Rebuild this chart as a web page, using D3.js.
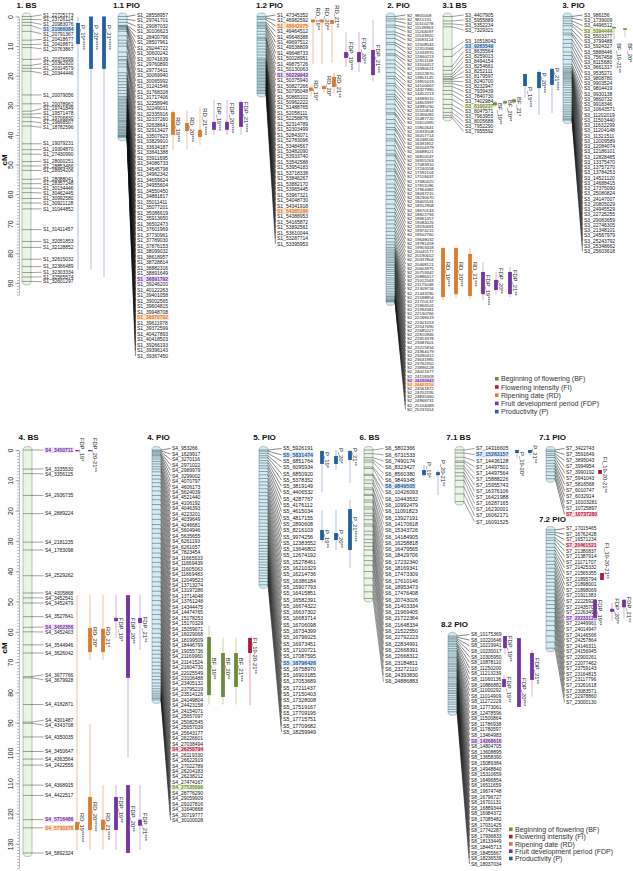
<!DOCTYPE html>
<html>
<head>
<meta charset="utf-8">
<script src="https://cdn.jsdelivr.net/npm/d3@7"></script>
<style>
body { margin: 0; background: #fff; }
text { font-family: "Liberation Sans", Arial, sans-serif; }
</style>
</head>
<body>
<svg id="chart" width="633" height="871"></svg>
<script>
// ---- marker data (cM positions + names) ----
var pos_1BS = [0,1,2,3,5,8,9.5,10.5,14.5,16.5,17.5,18.5,26.5,29.5,32,33,34,35.5,37,43,45,46.5,49,50.5,52,55,56.5,58,59.5,61.5,63,65,72,76,78,82,84.5,86.5,88,89.5];
var mrk_1BS = ["S1_22725173","S1_23726114","S1_20983076","S1_21066084","S1_20791367","S1_20418677","S1_20418871","S1_20763867","S1_20376599","S1_20362920","S1_20314579","S1_20344446","S1_20079056","S1_20078962","S1_19741849","S1_19571478","S1_19706830","S1_19668507","S1_18782596","S1_19079231","S1_19304870","S1_27430990","S1_28000251","S1_28853466","S1_28654206","S1_28088041","S1_28357248","S1_30134446","S1_30462445","S1_30992580","S1_30921128","S1_31044852","S1_31411457","S1_32051853","S1_32128852","S1_32615032","S1_32366489","S1_32303334","S1_32565574","S1_32601297"];

var pos_11PIO = [0,1,2,3,3.2,3.4,3.6,4,4.4,5,6.5,8,9,10,12,13.5,14.5,15,16,17,19,20,21,22,23,24,25,26,27,27.5,28,28.5,29,29.5,30,30.5,31,31.5,32,32.5,33,33.5,34,34.5,35,35.3,35.6,36,36.5,37,37.3,37.6,38,38.3,38.6,39,39.3,39.6,40,40.2,40.4,40.6,40.8];
var mrk_11PIO = ["S1_28558957","S1_29741701","S1_29087032","S1_30106623","S1_28400796","S1_28507961","S1_29244722","S1_30600242","S1_30741639","S1_29760890","S1_29773411","S1_30069940","S1_30065992","S1_31241546","S1_31768328","S1_31717406","S1_32258946","S1_32249011","S1_32335916","S1_32337260","S1_32638641","S1_32913427","S1_33507623","S1_33829910","S1_33634187","S1_33641388","S1_33911695","S1_34086733","S1_34545798","S1_34962342","S1_34659624","S1_34955604","S1_34550450","S1_34881817","S1_35011411","S1_35077201","S1_35086619","S1_35913650","S1_36502473","S1_37601969","S1_37730961","S1_37789030","S1_37876153","S1_38099032","S1_38618957","S1_38728814","S1_38882316","S1_38891649","S1_36891792","S1_39246200","S1_40122263","S1_39401058","S1_39002565","S1_39604815","S1_39948708","S1_39970792","S1_39611978","S1_39372599","S1_40427893","S1_40418503","S1_39266193","S1_39396143","S1_39367450"];

var pos_12PIO = [0,0.5,1,2,2.5,3,3.5,4,5,6,7,7.5,8,9,10,11,12,13,14,14.5,15,15.5,16,16.5,17,17.5,18,18.5,19,19.5,20,20.5,21,21.5,22,22.5,23,23.5,24,24.5,25,25.5,26];
var mrk_12PIO = ["S1_47345352","S1_46982592","S1_48642975","S1_49464512","S1_49648388","S1_49697512","S1_49538809","S1_49648733","S1_50028951","S1_49875726","S1_50130063","S1_50229942","S1_50375940","S1_50827266","S1_50795048","S1_50865102","S1_50962222","S1_51488765","S1_52058111","S1_52258876","S1_52314789","S1_52303499","S1_52843071","S1_52783096","S1_53484567","S1_53482090","S1_53933740","S1_53542588","S1_53954183","S1_53718338","S1_53846267","S1_53882170","S1_53965445","S1_53967321","S1_54048730","S1_54341918","S1_54385296","S1_54388953","S1_54165872","S1_53892561","S1_53610044","S1_53287714","S1_53395953"];

var pos_2PIO = [0,0.8,1.5,2.9,3.6,5.2,6.1,7.4,8.8,9.5,11.2,12.6,13.1,14.7,16.0,17.3,18.9,20.2,21.0,22.6,23.4,24.9,26.3,27.1,28.0,29.6,31.2,32.5,33.0,34.8,36.1,37.5,38.2,39.9,41.3,42.0,43.6,45.2,46.4,47.0,48.7,50.1,51.5,52.3,53.8,55.0,56.6,57.9,59.2,60.5,61.8,63.4,64.9,66.2,67.5,68.8,70.1,71.5,72.6,73.9,75.0,76.2,77.1,78.0,78.6,79.2,79.8,80.3,80.9,81.4,82.0,82.6,83.1,83.7,84.2,84.8,85.5,86.1,86.8,87.5,88.3,89.0,89.8,90.5,91.3,92.0,92.8,93.5,94.1,94.6,95.0,95.4,95.7,96.0,96.2,96.4];
var mrk_2PIO = ["S2_9805008","S2_9815131","S2_10110278","S2_11149963","S2_11264097","S2_11543920","S2_11683124","S2_12008542","S2_12310566","S2_12434970","S2_12660213","S2_12911148","S2_13104457","S2_13390621","S2_13522870","S2_13801145","S2_13955019","S2_14100662","S2_14327980","S2_14452213","S2_14689015","S2_14803397","S2_14995230","S2_15120814","S2_15366082","S2_15487720","S2_15610395","S2_15802641","S2_15933508","S2_16057714","S2_16248106","S2_16391852","S2_16504379","S2_16688021","S2_16810547","S2_16955263","S2_17083910","S2_17240558","S2_17392104","S2_17516637","S2_17680425","S2_17811096","S2_17964382","S2_18097215","S2_18230670","S2_18405531","S2_18552908","S2_18670143","S2_18822794","S2_18961357","S2_19084026","S2_19230681","S2_19374215","S2_19502760","S2_19648032","S2_19781459","S2_19903318","S2_20045177","S2_20190652","S2_20337804","S2_20468121","S2_20603975","S2_20759342","S2_20886417","S2_21012563","S2_21175048","S2_21309716","S2_21443290","S2_21598854","S2_21720137","S2_21866502","S2_21994381","S2_22130766","S2_22268419","S2_22401053","S2_22547690","S2_22685227","S2_22810946","S2_22953378","S2_23087601","S2_23215834","S2_23364079","S2_23490412","S2_23631985","S2_23762350","S2_23896128","S2_24021677","S2_24158309","S2_24290843","S2_24423516","S2_24561872","S2_24702195","S2_24835460","S2_24968731","S2_25104089","S2_25237414"];

var pos_31BS = [0,1.5,2.5,3.5,11.1,13.5,16.9,18.2,19.5,20.3,20.9,21.3,21.9,22.6,23.6,25,26.3,28,29.7,31.1,32.4,33.4,34.1];
var mrk_31BS = ["S3_4407905","S3_5955889","S3_5352234","S3_7329321","S3_10518042","S3_9265549","S3_8635564","S3_8259013","S3_8494154","S3_8254661","S3_8252111","S3_8179597","S3_8240700","S3_8232947","S3_7939439","S3_7840730","S3_7402984","S3_8100237","S3_8047571","S3_7963955","S3_8005688","S3_7952290","S3_7955592"];

var pos_3PIO = [0,0.6,1.5,2.4,3.1,4.5,5.6,6.2,7.8,9.1,10.4,12.0,13.2,14.5,16.1,17.0,17.6,18.1,18.5,18.9,19.3,19.7,20.1,20.5,20.9,21.4,21.9,22.5,23.2,24.0,24.8,25.7,26.5,27.4,28.2,29.0,29.9,30.6,31.3,32.0,32.6,33.2,33.8,34.3,34.7,35.0];
var mrk_3PIO = ["S3_986156","S3_1739009","S3_4496512","S3_5394444","S3_5503377","S3_3799488","S3_5924327","S3_5888446","S3_7567458","S3_8115680","S3_9661317","S3_9535271","S3_9808780","S3_9903524","S3_9804419","S3_9930138","S3_9860732","S3_9918346","S3_10643571","S3_11202019","S3_11503440","S3_11632299","S3_11204148","S3_11321511","S3_12009589","S3_12084074","S3_12186101","S3_12828485","S3_13375470","S3_13757270","S3_13784253","S3_14521120","S3_14688415","S3_17375090","S3_25080824","S3_24147007","S3_20805029","S3_24945529","S3_22725255","S3_29083659","S3_22746305","S3_21348101","S3_24567979","S3_25243792","S3_25348662","S3_25603618"];

var pos_4BS = [0,6.3,7.8,15,21,30.4,33,41.5,47.2,48.8,50.5,55,58.5,60,64.3,67,74.8,75.2,84,89.8,90.2,94.7,99.5,102,104,110.6,114,122,124.7,133];
var mrk_4BS = ["S4_3450711","S4_3335530","S4_3356115","S4_2936735","S4_2889224","S4_2181235","S4_1783098","S4_2529262","S4_4305868","S4_3452541","S4_3452479","S4_3527641","S4_3452356","S4_3452403","S4_3544946","S4_3626042","S4_3677766","S4_3679928","S4_4182871","S4_4301487","S4_4343708","S4_4350035","S4_3450647","S4_4363564","S4_2422556","S4_4368915","S4_4422517","S4_5716486","S4_5730378","S4_5892324"];

var pos_4PIO = [0,0.3,0.6,1.0,1.4,1.8,2.3,3.0,3.8,4.6,5.5,6.3,7.2,8.4,9.6,10.8,12.1,13.5,15.0,16.4,18.0,19.7,21.2,22.9,24.6,26.0,27.5,29.1,30.8,32.4,34.0,35.5,37.1,38.6,40.2,41.9,43.5,45.0,46.6,48.1,49.7,51.2,52.8,54.3,55.9,57.4,59.0,60.5,62.0,63.4,64.8,66.1,67.4,68.7,70.0,71.2,72.4,73.6,74.7,75.8,76.9,77.9,78.8,79.6,80.3,80.9,81.5,82.0,82.5];
var mrk_4PIO = ["S4_953266","S4_1629917","S4_3270116","S4_2971022","S4_2989979","S4_3299002","S4_4070797","S4_4606173","S4_5624039","S4_4521440","S4_4106192","S4_4046393","S4_4223201","S4_4039649","S4_4246681","S4_5604946","S4_5635655","S4_6261193","S4_6261057","S4_7823454","S4_11665633","S4_11669439","S4_11605063","S4_11669483","S4_12049523","S4_13713274","S4_13197286","S4_13714048","S4_13761248","S4_14344475","S4_14474765","S4_15178253","S4_15170329","S4_15059671","S4_16029068","S4_18199509","S4_18446799","S4_19055736","S4_21169960","S4_21141524","S4_21604730","S4_22025549","S4_23106488","S4_23405132","S4_23795219","S4_23514126","S4_24149804","S4_24423158","S4_24154071","S4_25657097","S4_25082545","S4_25657039","S4_25643177","S4_26226601","S4_27038494","S4_26258794","S4_26119330","S4_26622919","S4_27022789","S4_26204183","S4_26238212","S4_27474167","S4_27535090","S4_28776290","S4_29059909","S4_29107816","S4_31640668","S4_30719777","S4_30100028"];

var pos_5PIO = [0,0.4,1.1,1.9,2.6,3.5,4.3,5.2,6.0,7.1,8.2,9.4,10.5,11.6,12.8,14.0,15.1,16.3,17.4,18.6,19.7,20.8,21.9,23.0,24.1,25.2,26.3,27.4,28.5,29.5,30.5,31.5,32.5,33.4,34.3,35.2,36.1,37.0,37.9,38.8,39.7,40.6,41.5,42.4,43.4,44.5];
var mrk_5PIO = ["S5_5926191","S5_5831474","S5_6851764","S5_6095934","S5_6850920","S5_5378352","S5_3819149","S5_4406532","S5_4287767","S5_4176112","S5_4615034","S5_4817155","S5_2890608","S5_8216103","S5_9974256","S5_12383552","S5_13646802","S5_12674192","S5_15278461","S5_16210329","S5_16214736","S5_16386184","S5_15907793","S5_16415851","S5_16582391","S5_16674322","S5_16637302","S5_16683714","S5_16706098","S5_16734399","S5_16796025","S5_16973451","S5_17100721","S5_17087595","S5_16796426","S5_16758970","S5_16903185","S5_17053689","S5_17211437","S5_17150403","S5_17328008","S5_17519167","S5_17709195","S5_17715751","S5_17709682","S5_18259949"];

var pos_6BS = [0,1.2,2.5,3.3,4.0,5.6,6.1,8.0,8.4,9.9,11.0,12.5,13.1,14.6,15.0,16.5,17.2,18.8,19.5,20.9,21.7,23.0,24.4,25.1,26.8,28.0,29.5,30.6,31.8,33.0,34.9,36.5,38.0,40.1,42.3,44.6,46.8,49.0];
var mrk_6BS = ["S6_5802366","S6_6731533","S6_7490174","S6_8323427","S6_8560380","S6_9849345","S6_9849505","S6_10426093","S6_10443532","S6_10992479","S6_11091823","S6_13927191","S6_14170618","S6_15343726","S6_14184905","S6_16258818","S6_16479565","S6_18429706","S6_17232340","S6_18169341","S6_17473309","S6_17610146","S6_18953473","S6_17476408","S6_20743026","S6_21403334","S6_21969405","S6_21722364","S6_21648334","S6_21522550","S6_22792223","S6_22834991","S6_22668391","S6_22668312","S6_23184811","S6_23272110","S6_24393830","S6_24886883"];

var pos_71BS = [0,1.0,2.4,3.6,4.1,5.3,6.2,7.5,8.6,10.0,12.2,14.5,17.0];
var mrk_71BS = ["S7_14316605","S7_15263157","S7_14436128","S7_14497501","S7_14497564","S7_15888226","S7_15955743","S7_16376106","S7_16421988","S7_16287165","S7_16230001","S7_16062171","S7_16091525"];

var pos_71PIO = [0,0.5,1.2,1.8,2.5,3.5,4.4,5.3,6.2,7.2,8.4,9.5];
var mrk_71PIO = ["S7_3422743","S7_3591649","S7_3895043","S7_3994954","S7_3990192","S7_5941043","S7_5816568","S7_6010747","S7_6032914","S7_10103281","S7_10725897","S7_10737280"];

var pos_72PIO = [0,0.8,1.5,2.6,3.4,4.5,5.7,6.8,7.9,9.0,10.3,11.4,12.6,13.8,15.0,16.1,17.3,18.5,19.7,20.9,22.1,23.3,24.6,25.9,27.2,28.6,30.0,31.5,33.2,35.0,37.0,39.0];
var mrk_72PIO = ["S7_17015465","S7_16762428","S7_16571234","S7_20461521","S7_21380837","S7_21387914","S7_21171707","S7_21425332","S7_21565355","S7_21895794","S7_21898001","S7_21898069","S7_21911383","S7_22225920","S7_22435709","S7_22263495","S7_22233123","S7_22449961","S7_24014947","S7_24146566","S7_24257864","S7_24146311","S7_24156945","S7_22900261","S7_22077462","S7_23759143","S7_23164815","S7_23117796","S7_23261618","S7_23083571","S7_22978860","S7_23000130"];

var pos_82PIO = [0,0.4,0.9,1.3,1.8,2.4,2.9,3.4,4.1,4.7,5.2,5.9,6.6,7.1,7.6,8.3,9.0,9.5,10.1,10.8,11.3,11.8,12.5,13.2,13.7,14.2,14.9,15.6,16.1,16.6,17.3,18.0,18.5,19.0,19.7,20.4,21.0,21.8,22.5,23.4,24.2,25.0];
var mrk_82PIO = ["S8_10175369","S8_10220646","S8_10219941","S8_10230017","S8_10305950","S8_10878110","S8_11250200","S8_11213239","S8_11060136","S8_10886882","S8_11000292","S8_11014909","S8_11272229","S8_12773061","S8_12478596","S8_11500864","S8_11786938","S8_11780597","S8_13464983","S8_14268616","S8_14804705","S8_13608895","S8_13658390","S8_15089384","S8_14948840","S8_15310659","S8_16496854","S8_16511659","S8_19674748","S8_16796727","S8_16701131","S8_16889344","S8_16984372","S8_17085482","S8_17031425","S8_17742287","S8_17936833","S8_18133449","S8_18445713","S8_18455667","S8_18236539","S8_18037034"];

// highlighted markers -> trait
var highlight = {
  "S1_21066084":"P","S1_36891792":"FDP","S1_39970792":"RD","S1_48642975":"RD","S1_50229942":"FDP","S1_54385296":"RD",
  "S2_24290843":"FDP","S2_24423516":"RD","S3_9265549":"P","S3_8100237":"BF","S3_5394444":"BF",
  "S4_3450711":"FDP","S4_3452356":"FDP","S4_5716486":"FDP","S4_5730378":"RD","S4_26258794":"FI","S4_27535090":"BF",
  "S5_5831474":"P","S5_16796426":"P","S6_9849505":"P","S7_15263157":"P","S7_10737280":"FI","S7_20461521":"FI",
  "S7_22233123":"FDP","S8_14268616":"FDP"
};

// QTL: group, label, trait, thin start, thin end, thick start, thick end (cM)
var qtlRows = [
  ["1. BS","P_19*****","P",0,85.6,2.2,9.3],
  ["1. BS","P_20*****","P",0,85.6,0,17.7],
  ["1. BS","P_21*****","P",0,88,0,17.7],
  ["1.1 PIO","RD_19***","RD",31.6,45,32.3,40],
  ["1.1 PIO","RD_20***","RD",31.6,45,36,38.7],
  ["1.1 PIO","RD_21****","RD",30.6,43.4,38.3,40.7],
  ["1.1 PIO","FDP_19***","FDP",28.2,40,35.6,38.3],
  ["1.1 PIO","FDP_20****","FDP",28.2,40,35.6,38.3],
  ["1.1 PIO","FDP_21****","FDP",28.2,40,28.9,37.3],
  ["1.2 PIO","RD_19**","RD",1,16,1,2],
  ["1.2 PIO","RD_20**","RD",1,16,1,2],
  ["1.2 PIO","RD_21**","RD",1.2,15.7,1.2,2.5],
  ["1.2 PIO","RD_19*","RD",23,27,24,25.2],
  ["1.2 PIO","RD_20*","RD",23,26,23.5,24.5],
  ["1.2 PIO","RD_21**","RD",19,26,20.4,23.8],
  ["1.2 PIO","FDP_19***","FDP",5.2,17,12,14],
  ["1.2 PIO","FDP_20**","FDP",5.2,18.75,12,15.4],
  ["1.2 PIO","FDP_21***","FDP",1.2,22,11.3,19.8],
  ["2. PIO","RD_19***","RD",77.9,95.8,78.2,94.8],
  ["2. PIO","RD_20***","RD",77.9,95,78.2,93.8],
  ["2. PIO","RD_21***","RD",78.2,95.4,80.2,94.4],
  ["2. PIO","FDP_19****","FDP",83,95.8,86.3,93.8],
  ["2. PIO","FDP_20**","FDP",86.3,94,89,92.4],
  ["2. PIO","FDP_21**","FDP",84.6,94.8,86.3,93.8],
  ["3.1 BS","BF_19**","BF",28.5,30.5,29,30],
  ["3.1 BS","BF_20**","BF",28,30,28.6,29.4],
  ["3.1 BS","BF_21*","BF",27.5,29.5,28,29],
  ["3.1 BS","P_19***","P",19.4,27.5,19.4,23.5],
  ["3.1 BS","P_20***","P",18,33.3,18.75,24.2],
  ["3.1 BS","P_21****","P",17,32.6,17.7,23.1],
  ["3. PIO","BF_19-21**","BF",3.5,8,3.5,4],
  ["3. PIO","BF_20*","BF",4,7,4,4.5],
  ["4. BS","FDP_19*","FDP",0,0.4,0,0.4],
  ["4. BS","FDP_20-21**","FDP",0,0.4,0,0.4],
  ["4. BS","RD_20*","RD",47.9,69.3,58.7,66.7],
  ["4. BS","RD_21*","RD",47.9,69.3,59,66.7],
  ["4. BS","FDP_19*","FDP",47.9,62,55.4,56.5],
  ["4. BS","FDP_20**","FDP",47.9,101.6,47.9,75.2],
  ["4. BS","FDP_21**","FDP",47.9,66,55.4,57.1],
  ["4. BS","RD_19*****","RD",47.9,132,122.8,125.4],
  ["4. BS","RD_20*****","RD",90.4,132,114.5,125.4],
  ["4. BS","RD_21****","RD",110.6,132,122,125.4],
  ["4. BS","FDP_19**","FDP",110.6,132,114.5,125.4],
  ["4. BS","FDP_20**","FDP",110.6,132,110.6,133],
  ["4. BS","FDP_21***","FDP",110.6,132,122,124],
  ["4. PIO","BF_19**","BF",58,84,61.7,80.9],
  ["4. PIO","BF_20**","BF",62,84,67,81.5],
  ["4. PIO","BF_21***","BF",62,84,67,78.2],
  ["4. PIO","FI_19-20-21**","FI",62,84.2,62,67],
  ["5. PIO","P_19*","P",0.3,13.9,0.3,4.6],
  ["5. PIO","P_20*","P",0,6.6,2,4.6],
  ["5. PIO","P_21**","P",0,10.9,0.3,3.3],
  ["5. PIO","P_19**","P",19.8,30.4,26.4,29.7],
  ["5. PIO","P_20**","P",19.8,33,27.4,29.7],
  ["5. PIO","P_21*****","P",16.5,39,19.5,33],
  ["6. BS","P_19*","P",5,9,6.6,8.3],
  ["6. BS","P_20-21**","P",6.6,14.9,7.3,8.3],
  ["7.1 BS","P_19-20*","P",0,2.6,0,1],
  ["7.1 BS","P_21**","P",0,1.8,0,1],
  ["7.1 PIO","FI_19-20-21**","FI",6.6,7.9,6.6,7.9],
  ["7.2 PIO","FI_19-20-21**","FI",14.2,16.5,14.2,16.5],
  ["7.2 PIO","FDP_19**","FDP",23,33,23,29],
  ["7.2 PIO","FDP_20**","FDP",24,30,26,27],
  ["7.2 PIO","FDP_21**","FDP",23,29,23,25.5],
  ["8.2 PIO","FDP_19**","FDP",0,6,0,4],
  ["8.2 PIO","FDP_20***","FDP",0.7,23.4,0.7,23.4],
  ["8.2 PIO","FDP_21**","FDP",4.6,20,5.6,14.5],
  ["8.2 PIO","FDP_19**","FDP",13,17,14.2,16.8]
];
// placement of each QTL: column x (px), label start (cM)
var qtlPlace = [
  [78,2.9],[91,2.9],[104,2.9],
  [173,34],[187,34],[200,31],[214,29.2],[227,29.2],[241,28.9],
  [313,-3],[322,-3],[332,-3.8],[311,21.5],[324,20.1],[334,19.8],
  [346,8.6],[359,7.3],[373,9.6],
  [443,82.9],[456,82.9],[470,82.9],[483,87.3],[496,85],[510,85.6],
  [495,29.2],[505,28.2],[514,27.2],[525,23.8],[539,19],[552,17.4],
  [614,9],[625,9],
  [77,-4],[90,-4],[90,58.4],[103,58.4],[116,55.4],[128,55.4],[140,55],
  [77,119.8],[90,116.2],[103,119.8],[116,114.5],[128,117.5],[140,119.8],
  [209,68.6],[223,68.6],[236,68.6],[250,62],
  [322,0.7],[336,-0.7],[350,-0.7],[322,26.4],[336,26.4],[350,22.1],
  [424,4],[438,3.3],
  [517,0.7],[530,-1.6],
  [600,2.3],
  [602,4.3],[595,23],[612,22.5],[624,22],
  [505,0],[519,13.9],[532,7.3],[504,13.5]
];

var traitKeys = ["BF","FI","RD","FDP","P"];
var traitNames = ["Beginning of flowering (BF)","Flowering intensity (FI)","Ripening date (RD)","Fruit development period (FDP)","Productivity (P)"];

// ---- styles ----
var tColor = {BF:"#6d8b3d", FI:"#b3193f", RD:"#dc7a2c", FDP:"#7433a3", P:"#22609f"};
var tLight = {BF:"#c9d6ab", FI:"#e2a4b2", RD:"#efc29c", FDP:"#cdb6df", P:"#adc3da"};
var tBg = {BF:"#eef3d6", FI:"#fadbe1", RD:"#fde5d0", FDP:"#efe1f6", P:"#dfe8f6"};

var groups = [
  {name:"1. BS",   type:"BS",  x:22,  y0:16.5, k:2.96, gap:4.7,  fs:4.9, ldx:12, ty:8,   tdx:0, pos:pos_1BS,  mrk:mrk_1BS},
  {name:"1.1 PIO", type:"PIO", x:118, y0:16.5, k:2.96, gap:5.5,  fs:5.0, ldx:10, ty:8,   tdx:4, pos:pos_11PIO, mrk:mrk_11PIO},
  {name:"1.2 PIO", type:"PIO", x:257, y0:16.5, k:2.96, gap:5.45, fs:5.0, ldx:11, ty:8,   tdx:8, pos:pos_12PIO, mrk:mrk_12PIO},
  {name:"2. PIO",  type:"PIO", x:386, y0:16.5, k:2.96, gap:4.15, fs:4.3, ldx:12, ty:8,   tdx:8, pos:pos_2PIO,  mrk:mrk_2PIO},
  {name:"3.1 BS",  type:"BS",  x:443, y0:16.5, k:2.96, gap:5.0,  fs:5.0, ldx:13, ty:8,   tdx:7, pos:pos_31BS,  mrk:mrk_31BS},
  {name:"3. PIO",  type:"PIO", x:563, y0:16.5, k:2.96, gap:5.25, fs:5.0, ldx:12, ty:8,   tdx:6, pos:pos_3PIO,  mrk:mrk_3PIO},
  {name:"4. BS",   type:"BS",  x:23,  y0:450,  k:3.03, gap:5.0,  fs:5.0, ldx:13, ty:440, tdx:1, pos:pos_4BS,   mrk:mrk_4BS},
  {name:"4. PIO",  type:"PIO", x:152, y0:450,  k:3.03, gap:5.47, fs:5.0, ldx:11, ty:440, tdx:2, pos:pos_4PIO,  mrk:mrk_4PIO},
  {name:"5. PIO",  type:"PIO", x:259, y0:450,  k:3.03, gap:6.3,  fs:5.3, ldx:15, ty:440, tdx:1, pos:pos_5PIO,  mrk:mrk_5PIO},
  {name:"6. BS",   type:"BS",  x:364, y0:450,  k:3.03, gap:6.3,  fs:5.3, ldx:12, ty:440, tdx:1, pos:pos_6BS,   mrk:mrk_6BS},
  {name:"7.1 BS",  type:"BS",  x:455, y0:450,  k:3.03, gap:6.1,  fs:5.2, ldx:12, ty:440, tdx:-1, pos:pos_71BS, mrk:mrk_71BS},
  {name:"7.1 PIO", type:"PIO", x:546, y0:450,  k:3.03, gap:6.0,  fs:5.0, ldx:11, ty:440, tdx:2, pos:pos_71PIO, mrk:mrk_71PIO},
  {name:"7.2 PIO", type:"PIO", x:546, y0:530,  k:3.03, gap:5.6,  fs:4.9, ldx:11, ty:522, tdx:2, pos:pos_72PIO, mrk:mrk_72PIO},
  {name:"8.2 PIO", type:"PIO", x:448, y0:636,  k:3.03, gap:5.6,  fs:4.9, ldx:14, ty:627, tdx:2, pos:pos_82PIO, mrk:mrk_82PIO}
];
var barW = 9;

var svg = d3.select("#chart");

// push overlapping labels apart, keeping clusters centred on their markers
function spread(ys, gap, minY) {
  var blocks = [];
  ys.forEach(function(y) {
    var v = Math.max(y, minY);
    blocks.push({n: 1, sum: v, top: v});
    while (blocks.length > 1) {
      var a = blocks[blocks.length - 2], b = blocks[blocks.length - 1];
      if (a.top + a.n * gap <= b.top + 0.01) break;
      a.sum = a.sum + b.sum - b.n * a.n * gap;
      a.n += b.n;
      a.top = Math.max(minY, a.sum / a.n);
      blocks.pop();
    }
  });
  var out = [];
  blocks.forEach(function(b) {
    for (var i = 0; i < b.n; i++) out.push(b.top + i * gap);
  });
  return out;
}

var byName = {};
groups.forEach(function(g) {
  g.scale = d3.scaleLinear().domain([0, 1]).range([g.y0, g.y0 + g.k]);
  byName[g.name] = g;
  var sc = g.scale;
  var maxCM = d3.max(g.pos);
  var gg = svg.append("g");

  // title
  gg.append("text")
    .attr("x", g.x + barW / 2 + g.tdx).attr("y", g.ty)
    .attr("text-anchor", "middle")
    .style("font-size", "8px").style("font-weight", "bold").attr("fill", "#111")
    .text(g.name);

  // chromosome bar
  gg.append("rect")
    .attr("x", g.x).attr("y", sc(0) - 3.5)
    .attr("width", barW).attr("height", sc(maxCM) - sc(0) + 7)
    .attr("rx", barW / 2).attr("ry", 3.5)
    .attr("fill", g.type == "BS" ? "#eaf6e4" : "#d3ebf3")
    .attr("stroke", g.type == "BS" ? "#8c9c8c" : "#7d9aa8")
    .attr("stroke-width", 0.6);

  // marker ticks
  gg.selectAll(".tick")
    .data(g.pos).enter().append("line")
    .attr("x1", g.x).attr("x2", g.x + barW)
    .attr("y1", d => sc(d)).attr("y2", d => sc(d))
    .attr("stroke", g.type == "BS" ? "#555" : "#46616d")
    .attr("stroke-width", 0.55);

  // labels
  var ly = spread(g.pos.map(sc), g.gap, sc(0) - 1.5);
  var lx = g.x + barW + g.ldx;
  gg.selectAll(".conn")
    .data(g.pos).enter().append("line")
    .attr("x1", g.x + barW).attr("y1", d => sc(d))
    .attr("x2", lx - 1.5).attr("y2", (d, i) => ly[i])
    .attr("stroke", "#111").attr("stroke-width", g.type == "BS" ? 0.4 : 0.5);

  g.mrk.forEach(function(m, i) {
    var t = gg.append("text")
      .attr("x", lx).attr("y", ly[i]).attr("dy", "0.35em")
      .style("font-size", g.fs + "px")
      .attr("fill", "#151515")
      .text(m);
    var h = highlight[m];
    if (h) {
      t.attr("fill", tColor[h]).style("font-weight", "bold");
      var bb = t.node().getBBox();
      gg.insert("rect", function() { return t.node(); })
        .attr("x", bb.x - 0.5).attr("y", ly[i] - g.fs * 0.55)
        .attr("width", bb.width + 1).attr("height", g.fs * 1.1)
        .attr("fill", tBg[h]);
    }
  });
});

// QTL intervals
qtlRows.forEach(function(q, i) {
  var g = byName[q[0]], sc = g.scale, p = qtlPlace[i];
  var x = p[0];
  svg.append("line")
    .attr("x1", x).attr("x2", x)
    .attr("y1", sc(q[3])).attr("y2", sc(q[4]))
    .attr("stroke", tLight[q[2]]).attr("stroke-width", 1);
  var y1 = sc(q[5]), y2 = sc(q[6]);
  svg.append("rect")
    .attr("x", x - 1.9).attr("width", 3.8)
    .attr("y", y1).attr("height", Math.max(1.3, y2 - y1))
    .attr("fill", tColor[q[2]]);
  svg.append("text")
    .attr("transform", "translate(" + (x + 3) + "," + sc(p[1]) + ") rotate(90)")
    .style("font-size", "5.8px").attr("fill", "#222")
    .text(q[1]);
});

// cM rulers
function ruler(y0, k, maxCM, cmY) {
  var sc = d3.scaleLinear().domain([0, maxCM]).range([y0, y0 + maxCM * k]);
  svg.append("g").attr("transform", "translate(19,0)")
    .call(d3.axisLeft(sc).tickValues(d3.range(0, maxCM + 1, 1)).tickSize(2).tickSizeOuter(0).tickFormat(""))
    .call(a => a.selectAll("line,path").attr("stroke", "#777").attr("stroke-width", 0.5));
  var major = svg.append("g").attr("transform", "translate(19,0)")
    .call(d3.axisLeft(sc).tickValues(d3.range(0, maxCM, 10)).tickSize(3.5).tickSizeOuter(0));
  major.select(".domain").remove();
  major.selectAll("line").attr("stroke", "#777").attr("stroke-width", 0.6);
  major.selectAll("text")
    .attr("transform", "rotate(-90)").attr("x", 0).attr("y", -6).attr("dy", 0)
    .style("text-anchor", "middle").style("font-size", "7px").attr("fill", "#222")
    .style("font-family", "'Liberation Sans', Arial, sans-serif");
  svg.append("text")
    .attr("transform", "translate(7," + cmY + ") rotate(-90)")
    .attr("text-anchor", "middle")
    .style("font-size", "8px").style("font-weight", "bold")
    .text("cM");
}
ruler(16.5, 2.96, 94, 160);
ruler(450, 3.03, 138, 648);

// legends
function legend(x, y, step) {
  traitKeys.forEach(function(t, i) {
    svg.append("rect").attr("x", x).attr("y", y + i * step - 2).attr("width", 3.6).attr("height", 3.6).attr("fill", tColor[t]);
    svg.append("text").attr("x", x + 6).attr("y", y + i * step).attr("dy", "0.35em")
      .style("font-size", "7px").attr("fill", "#333").text(traitNames[i]);
  });
}
legend(495, 379, 8.2);
legend(509, 829.5, 7.3);
</script>
</body>
</html>
